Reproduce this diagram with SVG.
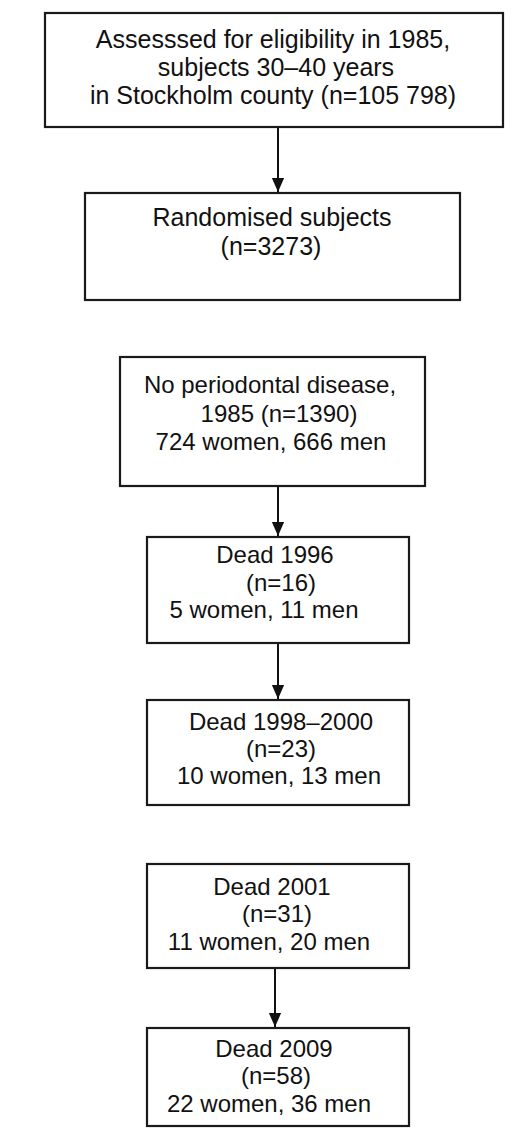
<svg xmlns="http://www.w3.org/2000/svg" width="523" height="1129" viewBox="0 0 523 1129">
<style>
.box{fill:#fff;stroke:#1a1a1a;stroke-width:2.2}
.t{font-family:"Liberation Sans",Arial,sans-serif;font-size:24px;fill:#111;text-anchor:middle}
.big{font-size:25px}
.c{stroke:#111;stroke-width:2;fill:none}
</style>
<defs>
<marker id="ah" markerWidth="14" markerHeight="16" refX="16" refY="7" orient="auto" markerUnits="userSpaceOnUse" viewBox="0 0 16 14">
<path d="M0,0 L16,7 L0,14 Z" fill="#111"/>
</marker>
</defs>
<rect width="523" height="1129" fill="#fff"/>
<g id="connectors">
<line class="c" x1="278" y1="127" x2="278" y2="192" marker-end="url(#ah)"/>
<line class="c" x1="278" y1="486" x2="278" y2="536" marker-end="url(#ah)"/>
<line class="c" x1="278" y1="643" x2="278" y2="699" marker-end="url(#ah)"/>
<line class="c" x1="275" y1="968" x2="275" y2="1027" marker-end="url(#ah)"/>
</g>
<g id="n1">
<rect class="box" x="45" y="13" width="458" height="114"/>
<text class="t big" x="273" y="48">Assesssed for eligibility in 1985,</text>
<text class="t big" x="276" y="76">subjects 30–40 years</text>
<text class="t big" x="273" y="104">in Stockholm county (n=105 798)</text>
</g>
<g id="n2">
<rect class="box" x="85" y="193" width="375" height="107"/>
<text class="t big" x="272" y="226">Randomised subjects</text>
<text class="t big" x="271" y="255">(n=3273)</text>
</g>
<g id="n3">
<rect class="box" x="120" y="357" width="305" height="129"/>
<text class="t" x="270" y="393">No periodontal disease,</text>
<text class="t" x="279" y="422">1985 (n=1390)</text>
<text class="t" x="271" y="450">724 women, 666 men</text>
</g>
<g id="n4">
<rect class="box" x="147" y="537" width="262" height="106"/>
<text class="t" x="275" y="563">Dead 1996</text>
<text class="t" x="281" y="591">(n=16)</text>
<text class="t" x="264" y="618">5 women, 11 men</text>
</g>
<g id="n5">
<rect class="box" x="147" y="700" width="262" height="105"/>
<text class="t" x="281" y="730">Dead 1998–2000</text>
<text class="t" x="281" y="757">(n=23)</text>
<text class="t" x="279" y="784">10 women, 13 men</text>
</g>
<g id="n6">
<rect class="box" x="147" y="864" width="262" height="104"/>
<text class="t" x="272" y="895">Dead 2001</text>
<text class="t" x="277" y="922">(n=31)</text>
<text class="t" x="269" y="950">11 women, 20 men</text>
</g>
<g id="n7">
<rect class="box" x="147" y="1028" width="262" height="98"/>
<text class="t" x="274" y="1057">Dead 2009</text>
<text class="t" x="276" y="1084">(n=58)</text>
<text class="t" x="269" y="1112">22 women, 36 men</text>
</g>
</svg>
